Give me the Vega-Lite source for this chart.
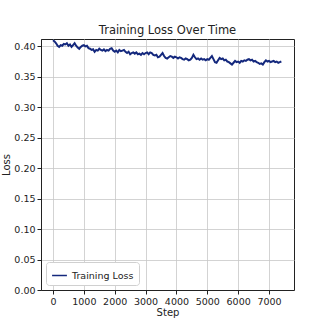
{
  "$schema": "https://vega.github.io/schema/vega-lite/v6.json",
  "width": 253,
  "height": 251,
  "autosize": "none",
  "padding": {"left": 41, "top": 39, "right": 32, "bottom": 36},
  "background": "white",
  "title": {"text": "Training Loss Over Time", "font": "DejaVu Sans", "fontSize": 11.5, "fontWeight": "normal", "color": "#222", "offset": 0},
  "config": {
    "font": "DejaVu Sans",
    "view": {"stroke": "#222", "strokeWidth": 1},
    "axis": {"labelFont": "DejaVu Sans", "labelFontSize": 9.5, "labelColor": "#222", "titleFont": "DejaVu Sans", "titleFontSize": 10, "titleFontWeight": "normal", "titleColor": "#222", "tickColor": "#222", "domainColor": "#222", "gridColor": "#c8c8c8", "gridWidth": 0.8, "tickSize": 4}
  },
  "data": {"values": [
    {"step":0,"loss":0.410},{"step":50,"loss":0.408},{"step":100,"loss":0.405},{"step":150,"loss":0.401},{"step":200,"loss":0.399},{"step":250,"loss":0.402},{"step":300,"loss":0.401},{"step":350,"loss":0.404},{"step":400,"loss":0.403},{"step":450,"loss":0.405},
    {"step":500,"loss":0.401},{"step":550,"loss":0.403},{"step":600,"loss":0.399},{"step":650,"loss":0.402},{"step":700,"loss":0.405},{"step":750,"loss":0.401},{"step":800,"loss":0.398},{"step":850,"loss":0.396},{"step":900,"loss":0.399},{"step":950,"loss":0.401},
    {"step":1000,"loss":0.402},{"step":1050,"loss":0.400},{"step":1100,"loss":0.401},{"step":1150,"loss":0.397},{"step":1200,"loss":0.396},{"step":1250,"loss":0.394},{"step":1300,"loss":0.395},{"step":1350,"loss":0.391},{"step":1400,"loss":0.394},{"step":1450,"loss":0.393},
    {"step":1500,"loss":0.396},{"step":1550,"loss":0.394},{"step":1600,"loss":0.393},{"step":1650,"loss":0.395},{"step":1700,"loss":0.392},{"step":1750,"loss":0.394},{"step":1800,"loss":0.393},{"step":1850,"loss":0.396},{"step":1900,"loss":0.397},{"step":1950,"loss":0.393},
    {"step":2000,"loss":0.391},{"step":2050,"loss":0.393},{"step":2100,"loss":0.390},{"step":2150,"loss":0.394},{"step":2200,"loss":0.392},{"step":2250,"loss":0.393},{"step":2300,"loss":0.394},{"step":2350,"loss":0.391},{"step":2400,"loss":0.389},{"step":2450,"loss":0.391},
    {"step":2500,"loss":0.387},{"step":2550,"loss":0.389},{"step":2600,"loss":0.390},{"step":2650,"loss":0.388},{"step":2700,"loss":0.390},{"step":2750,"loss":0.387},{"step":2800,"loss":0.388},{"step":2850,"loss":0.386},{"step":2900,"loss":0.389},{"step":2950,"loss":0.387},
    {"step":3000,"loss":0.389},{"step":3050,"loss":0.390},{"step":3100,"loss":0.387},{"step":3150,"loss":0.390},{"step":3200,"loss":0.389},{"step":3250,"loss":0.386},{"step":3300,"loss":0.385},{"step":3350,"loss":0.386},{"step":3400,"loss":0.382},{"step":3450,"loss":0.383},
    {"step":3500,"loss":0.386},{"step":3550,"loss":0.389},{"step":3600,"loss":0.384},{"step":3650,"loss":0.381},{"step":3700,"loss":0.380},{"step":3750,"loss":0.382},{"step":3800,"loss":0.384},{"step":3850,"loss":0.383},{"step":3900,"loss":0.381},{"step":3950,"loss":0.383},
    {"step":4000,"loss":0.382},{"step":4050,"loss":0.380},{"step":4100,"loss":0.382},{"step":4150,"loss":0.381},{"step":4200,"loss":0.379},{"step":4250,"loss":0.378},{"step":4300,"loss":0.380},{"step":4350,"loss":0.379},{"step":4400,"loss":0.377},{"step":4450,"loss":0.378},
    {"step":4500,"loss":0.381},{"step":4550,"loss":0.386},{"step":4600,"loss":0.382},{"step":4650,"loss":0.379},{"step":4700,"loss":0.380},{"step":4750,"loss":0.378},{"step":4800,"loss":0.380},{"step":4850,"loss":0.378},{"step":4900,"loss":0.379},{"step":4950,"loss":0.377},
    {"step":5000,"loss":0.379},{"step":5050,"loss":0.378},{"step":5100,"loss":0.381},{"step":5150,"loss":0.384},{"step":5200,"loss":0.379},{"step":5250,"loss":0.374},{"step":5300,"loss":0.373},{"step":5350,"loss":0.377},{"step":5400,"loss":0.381},{"step":5450,"loss":0.379},
    {"step":5500,"loss":0.380},{"step":5550,"loss":0.377},{"step":5600,"loss":0.378},{"step":5650,"loss":0.375},{"step":5700,"loss":0.374},{"step":5750,"loss":0.372},{"step":5800,"loss":0.370},{"step":5850,"loss":0.373},{"step":5900,"loss":0.376},{"step":5950,"loss":0.374},
    {"step":6000,"loss":0.375},{"step":6050,"loss":0.373},{"step":6100,"loss":0.376},{"step":6150,"loss":0.375},{"step":6200,"loss":0.377},{"step":6250,"loss":0.376},{"step":6300,"loss":0.378},{"step":6350,"loss":0.379},{"step":6400,"loss":0.377},{"step":6450,"loss":0.378},
    {"step":6500,"loss":0.375},{"step":6550,"loss":0.376},{"step":6600,"loss":0.374},{"step":6650,"loss":0.373},{"step":6700,"loss":0.371},{"step":6750,"loss":0.372},{"step":6800,"loss":0.370},{"step":6850,"loss":0.374},{"step":6900,"loss":0.377},{"step":6950,"loss":0.375},
    {"step":7000,"loss":0.376},{"step":7050,"loss":0.374},{"step":7100,"loss":0.375},{"step":7150,"loss":0.376},{"step":7200,"loss":0.374},{"step":7250,"loss":0.375},{"step":7300,"loss":0.373},{"step":7350,"loss":0.374},{"step":7400,"loss":0.375}
  ]},
  "transform": [{"calculate": "'Training Loss'", "as": "series"}],
  "mark": {"type": "line", "strokeWidth": 2, "interpolate": "linear"},
  "encoding": {
    "x": {"field": "step", "type": "quantitative", "title": "Step",
      "scale": {"domain": [-389, 7810], "nice": false, "zero": false},
      "axis": {"values": [0,1000,2000,3000,4000,5000,6000,7000], "format": "d", "labelFlush": false, "titlePadding": 2}},
    "y": {"field": "loss", "type": "quantitative", "title": "Loss",
      "scale": {"domain": [0, 0.412], "nice": false, "zero": true},
      "axis": {"values": [0,0.05,0.1,0.15,0.2,0.25,0.3,0.35,0.4], "format": ".2f", "labelFlush": false, "titlePadding": 2}},
    "color": {"field": "series", "type": "nominal",
      "scale": {"range": ["#14287d"]},
      "legend": {"title": null, "orient": "bottom-left", "offset": 5, "symbolType": "stroke", "symbolStrokeWidth": 1.5, "symbolSize": 220, "labelFontSize": 9.5, "labelFont": "DejaVu Sans", "labelColor": "#222", "strokeColor": "#d0d0d0", "fillColor": "white", "padding": 5, "cornerRadius": 3}}
  }
}
